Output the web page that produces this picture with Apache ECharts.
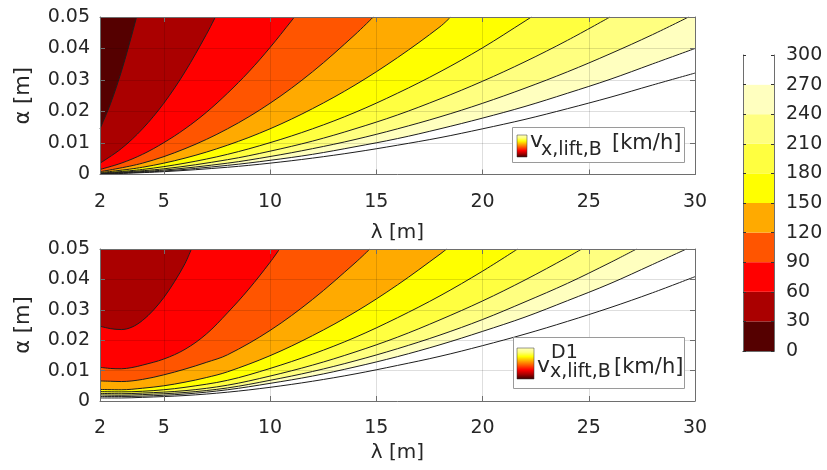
<!DOCTYPE html>
<html>
<head>
<meta charset="utf-8">
<script src="https://cdn.jsdelivr.net/npm/echarts@6/dist/echarts.min.js"></script>
<style>
html, body { margin: 0; padding: 0; background: #fff; }
#chart { width: 827px; height: 470px; }
</style>
</head>
<body>
<div id="chart"></div>
<script>
// contour levels (km/h) and the band colours between them
var levels = [30, 60, 90, 120, 150, 180, 210, 240, 270, 300];
var bandColors = ['#550000', '#aa0000', '#ff0000', '#ff5500', '#ffaa00',
                  '#ffff00', '#ffff40', '#ffff80', '#ffffbf', '#ffffff'];
var lambdaTicks = [2, 5, 10, 15, 20, 25, 30];

// upper plot: contour lines [lambda, alpha]
var top030 = [[2, 0.0145], [2.5, 0.0226], [3, 0.0326], [3.5, 0.0444], [3.72, 0.05]];
var top060 = [[2, 0.0036], [3, 0.0082], [4, 0.0145], [5, 0.0226], [6, 0.0326], [7, 0.0444], [7.43, 0.05]];
var top090 = [[2, 0.0016], [3, 0.0036], [4, 0.0064], [5, 0.0101], [6, 0.0145], [7, 0.0197], [8, 0.0258],
              [9, 0.0326], [10, 0.0403], [11, 0.0487], [11.15, 0.05]];
var top120 = [[2, 0.0009], [4, 0.0036], [6, 0.0082], [8, 0.0145], [10, 0.0226], [12, 0.0326], [14, 0.0444], [14.86, 0.05]];
var top150 = [[2, 0.0006], [4, 0.0023], [6, 0.0052], [8, 0.0093], [10, 0.0145], [12, 0.0209], [14, 0.0284],
              [16, 0.0371], [18, 0.0469], [18.5, 0.05]];
var top180 = [[2, 0.0004], [4, 0.0016], [6, 0.0036], [8, 0.0064], [10, 0.0101], [12, 0.0145], [14, 0.0197],
              [16, 0.0258], [18, 0.0326], [20, 0.0402], [22, 0.0487], [22.3, 0.05]];
var top210 = [[2, 0.0003], [5, 0.0018], [8, 0.0047], [10, 0.0074], [12, 0.0106], [14, 0.0145], [16, 0.0189],
              [18, 0.0240], [20, 0.0296], [22, 0.0358], [24, 0.0426], [26, 0.05]];
var top240 = [[2, 0.0002], [5, 0.0014], [8, 0.0036], [10, 0.0057], [12, 0.0082], [14, 0.0111], [16, 0.0145],
              [18, 0.0183], [20, 0.0226], [22, 0.0274], [24, 0.0326], [26, 0.0383], [28, 0.0444], [29.7, 0.05]];
var top270 = [[2, 0.0002], [5, 0.0011], [8, 0.0029], [10, 0.0045], [12, 0.0064], [14, 0.0088], [16, 0.0114],
              [18, 0.0145], [20, 0.0179], [22, 0.0216], [24, 0.0258], [26, 0.0302], [28, 0.0351], [30, 0.0400]];
var top300 = [[2, 0.0001], [5, 0.0009], [8, 0.0023], [10, 0.0036], [12, 0.0052], [14, 0.0071], [16, 0.0093],
              [18, 0.0117], [20, 0.0145], [22, 0.0175], [24, 0.0209], [26, 0.0245], [28, 0.0284], [30, 0.0322]];

// lower plot (D1): no 30 km/h line in view
var bot060 = [[2, 0.0246], [2.5, 0.0238], [3, 0.0235], [3.5, 0.0243], [4, 0.0265], [4.5, 0.0298], [5, 0.0340],
              [5.5, 0.0392], [6, 0.0452], [6.3, 0.05]];
var bot090 = [[2, 0.0111], [2.5, 0.0107], [3, 0.0106], [3.5, 0.0110], [4, 0.0118], [5, 0.0138], [6, 0.0170],
              [7, 0.0220], [8, 0.0290], [9, 0.0368], [10, 0.0456], [10.45, 0.05]];
var bot120 = [[2, 0.0066], [2.5, 0.0065], [3, 0.0064], [4, 0.0071], [5, 0.0086], [6, 0.0105], [7, 0.0127],
              [8, 0.0152], [10, 0.0232], [12, 0.0334], [14, 0.0454], [14.7, 0.05]];
var bot150 = [[2, 0.0038], [3, 0.0037], [4, 0.0042], [5, 0.0050], [6, 0.0062], [7, 0.0077], [8, 0.0096],
              [10, 0.0149], [12, 0.0215], [14, 0.0292], [16, 0.0382], [18, 0.0483], [18.31, 0.05]];
var bot180 = [[2, 0.0031], [3, 0.0030], [4, 0.0032], [5, 0.0037], [6, 0.0045], [8, 0.0068], [10, 0.0107],
              [12, 0.0154], [14, 0.0209], [16, 0.0274], [18, 0.0346], [20, 0.0427], [21.65, 0.05]];
var bot210 = [[2, 0.0025], [3, 0.0024], [4, 0.0026], [6, 0.0034], [8, 0.0052], [10, 0.0082], [12, 0.0118],
              [14, 0.0161], [16, 0.0210], [18, 0.0267], [20, 0.0329], [22, 0.0398], [24, 0.0473], [24.67, 0.05]];
var bot240 = [[2, 0.0020], [3, 0.0019], [4, 0.0021], [6, 0.0028], [8, 0.0043], [10, 0.0068], [12, 0.0097],
              [14, 0.0132], [16, 0.0172], [18, 0.0217], [20, 0.0268], [22, 0.0326], [24, 0.0387], [26, 0.0455], [27.25, 0.05]];
var bot270 = [[2, 0.0015], [3, 0.0015], [4, 0.0016], [6, 0.0023], [8, 0.0037], [10, 0.0058], [12, 0.0082],
              [14, 0.0112], [16, 0.0146], [18, 0.0185], [20, 0.0229], [22, 0.0276], [24, 0.0330], [26, 0.0386],
              [28, 0.0449], [29.6, 0.05]];
var bot300 = [[2, 0.0010], [3, 0.0010], [4, 0.0012], [6, 0.0018], [8, 0.0029], [10, 0.0045], [12, 0.0065],
              [14, 0.0089], [16, 0.0117], [18, 0.0147], [20, 0.0182], [22, 0.0220], [24, 0.0262], [26, 0.0307],
              [28, 0.0356], [30, 0.0409]];

var topLines = [top030, top060, top090, top120, top150, top180, top210, top240, top270, top300];
var botLines = [null, bot060, bot090, bot120, bot150, bot180, bot210, bot240, bot270, bot300];

var FONT = 'DejaVu Sans';
var TXT = '#262626';
var FRAME = '#6e6e6e';

var myChart = echarts.init(document.getElementById('chart'));

function panelAxes(grid, nameGap) {
    var xs = [{
        gridIndex: grid, type: 'value', min: 2, max: 30, position: 'bottom', z: 5,
        axisLine: { show: true, onZero: false, lineStyle: { color: FRAME, width: 1 } },
        axisTick: { show: true, inside: true, length: 5, customValues: lambdaTicks, lineStyle: { color: FRAME } },
        axisLabel: { customValues: lambdaTicks, margin: 18, fontSize: 19, fontFamily: FONT, color: TXT },
        splitLine: { show: true, lineStyle: { color: 'rgba(0,0,0,0.13)', width: 1 } },
        name: 'λ [m]', nameLocation: 'middle', nameGap: nameGap,
        nameTextStyle: { fontSize: 20, fontFamily: FONT, color: TXT }
    }, {
        gridIndex: grid, type: 'value', min: 2, max: 30, position: 'top', z: 5,
        axisLine: { show: true, onZero: false, lineStyle: { color: FRAME, width: 1 } },
        axisTick: { show: true, inside: true, length: 5, customValues: lambdaTicks, lineStyle: { color: FRAME } },
        axisLabel: { show: false }, splitLine: { show: false }
    }];
    var ys = [{
        gridIndex: grid, type: 'value', min: 0, max: 0.05, interval: 0.01, position: 'left', z: 5,
        axisLine: { show: true, onZero: false, lineStyle: { color: FRAME, width: 1 } },
        axisTick: { show: true, inside: true, length: 5, lineStyle: { color: FRAME } },
        axisLabel: { margin: 10, fontSize: 19, fontFamily: FONT, color: TXT },
        splitLine: { show: true, lineStyle: { color: 'rgba(0,0,0,0.13)', width: 1 } },
        name: 'α [m]', nameLocation: 'middle', nameGap: 66,
        nameTextStyle: { fontSize: 21, fontFamily: FONT, color: TXT }
    }, {
        gridIndex: grid, type: 'value', min: 0, max: 0.05, interval: 0.01, position: 'right', z: 5,
        axisLine: { show: true, onZero: false, lineStyle: { color: FRAME, width: 1 } },
        axisTick: { show: true, inside: true, length: 5, lineStyle: { color: FRAME } },
        axisLabel: { show: false }, splitLine: { show: false }
    }];
    return { x: xs, y: ys };
}

var a0 = panelAxes(0, 48);
var a1 = panelAxes(1, 42);

// colour bar axes (grid 2)
var cbX = [
    { gridIndex: 2, type: 'category', data: [''], position: 'bottom', z: 5,
      axisLine: { show: true, lineStyle: { color: FRAME } }, axisTick: { show: false }, axisLabel: { show: false } },
    { gridIndex: 2, type: 'category', data: [''], position: 'top', z: 5,
      axisLine: { show: true, lineStyle: { color: FRAME } }, axisTick: { show: false }, axisLabel: { show: false } }
];
var cbY = [
    { gridIndex: 2, type: 'value', min: 0, max: 300, interval: 30, position: 'right', z: 5,
      axisLine: { show: true, lineStyle: { color: FRAME } },
      axisTick: { show: true, inside: true, length: 3, lineStyle: { color: '#333' } },
      axisLabel: { margin: 12, fontSize: 19, fontFamily: FONT, color: TXT },
      splitLine: { show: false } },
    { gridIndex: 2, type: 'value', min: 0, max: 300, interval: 30, position: 'left', z: 5,
      axisLine: { show: true, lineStyle: { color: FRAME } },
      axisTick: { show: true, inside: true, length: 3, lineStyle: { color: '#333' } },
      axisLabel: { show: false }, splitLine: { show: false } }
];

var xAxes = a0.x.concat(a1.x, cbX);   // 0,1 top plot; 2,3 lower plot; 4,5 colour bar
var yAxes = a0.y.concat(a1.y, cbY);

var series = [];
function addContours(lines, xi, yi) {
    // highest level first, so each lower band paints over the area above its line
    for (var i = levels.length - 1; i >= 0; i--) {
        if (!lines[i]) continue;
        series.push({
            type: 'line', name: String(levels[i]), xAxisIndex: xi, yAxisIndex: yi,
            data: lines[i], showSymbol: false, smooth: 0.35,
            lineStyle: { color: '#1e1e1e', width: 1 },
            areaStyle: { color: bandColors[i], opacity: 1, origin: 'end' },
            silent: true, z: 2
        });
    }
}
addContours(topLines, 0, 0);
addContours(botLines, 2, 2);

for (var k = 0; k < levels.length; k++) {
    series.push({
        type: 'bar', stack: 'cb', xAxisIndex: 4, yAxisIndex: 4, barWidth: '100%',
        data: [levels[k] - (k ? levels[k - 1] : 0)],
        itemStyle: { color: bandColors[k] }, silent: true
    });
}

function legendGrad() {
    return new echarts.graphic.LinearGradient(0, 0, 0, 1, [
        { offset: 0, color: '#ffffbf' }, { offset: 0.14, color: '#ffff80' }, { offset: 0.28, color: '#ffff00' },
        { offset: 0.42, color: '#ffaa00' }, { offset: 0.56, color: '#ff5500' }, { offset: 0.7, color: '#ff0000' },
        { offset: 0.84, color: '#aa0000' }, { offset: 1, color: '#330000' }
    ]);
}

function txt(x, y, s, size) {
    return { type: 'text', z: 20, style: { x: x, y: y, text: s, fontSize: size, fontFamily: FONT, fill: TXT,
             textAlign: 'left', textVerticalAlign: 'middle' } };
}

var option = {
    animation: false,
    backgroundColor: '#ffffff',
    grid: [
        { left: 100, top: 17, width: 595, height: 157.5, outerBoundsMode: 'none' },
        { left: 100, top: 249, width: 595, height: 152, outerBoundsMode: 'none' },
        { left: 743, top: 55, width: 31, height: 296, outerBoundsMode: 'none' }
    ],
    xAxis: xAxes,
    yAxis: yAxes,
    series: series,
    graphic: [
        { type: 'rect', z: 20, shape: { x: 512.5, y: 127.5, width: 172, height: 35 },
          style: { fill: '#fff', stroke: '#9a9a9a', lineWidth: 1 } },
        { type: 'rect', z: 21, shape: { x: 517, y: 135, width: 10, height: 22 },
          style: { fill: legendGrad(), stroke: '#333', lineWidth: 0.5 } },
        txt(530, 141, 'v', 22),
        txt(541, 150, 'x,lift,B', 19),
        txt(612, 144, '[km/h]', 21),

        { type: 'rect', z: 20, shape: { x: 513.5, y: 337.5, width: 171, height: 51 },
          style: { fill: '#fff', stroke: '#9a9a9a', lineWidth: 1 } },
        { type: 'rect', z: 21, shape: { x: 517, y: 348, width: 17, height: 31 },
          style: { fill: legendGrad(), stroke: '#333', lineWidth: 0.5 } },
        txt(551, 353, 'D1', 19),
        txt(537, 366, 'v', 22),
        txt(550, 372, 'x,lift,B', 19),
        txt(614, 368, '[km/h]', 21)
    ]
};
myChart.setOption(option);
</script>
</body>
</html>
